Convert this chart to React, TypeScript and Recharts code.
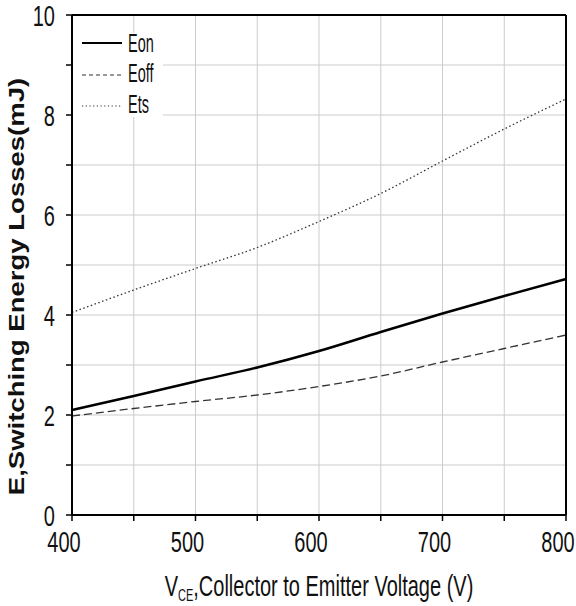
import React from "react";
import { LineChart, Line, XAxis, YAxis, CartesianGrid, ReferenceLine, Customized } from "recharts";

const voltages = [400, 450, 500, 550, 600, 650, 700, 750, 800];
const eOn = [2.1, 2.38, 2.67, 2.95, 3.28, 3.66, 4.03, 4.38, 4.72];
const eOff = [1.98, 2.13, 2.27, 2.4, 2.57, 2.78, 3.06, 3.33, 3.6];
const eTs = [4.05, 4.5, 4.93, 5.35, 5.87, 6.43, 7.08, 7.72, 8.32];
const xTicks = [400, 450, 500, 550, 600, 650, 700, 750, 800];
const yTicks = [0, 1, 2, 3, 4, 5, 6, 7, 8, 9, 10];

const data = voltages.map((v, i) => ({ v, eOn: eOn[i], eOff: eOff[i], eTs: eTs[i] }));

const FONT = "'Liberation Sans', Arial, sans-serif";

const XTick = (props: any) => {
  const { x, y, payload } = props;
  if (payload.value % 100 !== 0) return <g />;
  return (
    <text transform={`translate(${x - 8},${y + 29}) scale(1,1.5)`} textAnchor="middle" fontSize={20} fontFamily={FONT} fill="#111">
      {payload.value}
    </text>
  );
};

const YTick = (props: any) => {
  const { x, y, payload } = props;
  if (payload.value % 2 !== 0) return <g />;
  return (
    <text transform={`translate(${x - 9},${y + 10.5}) scale(1,1.5)`} textAnchor="end" fontSize={20} fontFamily={FONT} fill="#111">
      {payload.value}
    </text>
  );
};

const Overlay = () => (
  <g fontFamily={FONT}>
    <rect x={73} y={33} width={90} height={84} fill="#fff" />
    <line x1={82} x2={122} y1={43} y2={43} stroke="#000" strokeWidth={2.2} />
    <line x1={82} x2={122} y1={75} y2={75} stroke="#333" strokeWidth={1.2} strokeDasharray="4 3" />
    <line x1={82} x2={122} y1={106} y2={106} stroke="#333" strokeWidth={1.2} strokeDasharray="1.2 2.5" />
    <text transform="translate(128,52) scale(1,1.75)" fontSize={14.5} fill="#111">Eon</text>
    <text transform="translate(128,82) scale(1,1.75)" fontSize={14.5} fill="#111">Eoff</text>
    <text transform="translate(128,113) scale(1,1.75)" fontSize={14.5} fill="#111">Ets</text>
    <text transform="translate(23.5,286.5) rotate(-90) scale(1.28,1)" textAnchor="middle" fontSize={21.5} fontWeight="bold" fill="#111">
      E,Switching Energy Losses(mJ)
    </text>
    <text transform="translate(319,596) scale(1,1.5)" textAnchor="middle" fontSize={20} fill="#111">
      V<tspan fontSize={11} dy={3}>CE</tspan><tspan dy={-3}>,Collector to Emitter Voltage (V)</tspan>
    </text>
  </g>
);

export default function App() {
  return (
    <div style={{ position: "absolute", left: 0, top: 0, width: 576, height: 606 }}>
      <LineChart width={576} height={606} data={data} margin={{ top: 15, right: 10, bottom: 0, left: 0 }}>
        <CartesianGrid stroke="#cccccc" strokeWidth={1} />
        <XAxis
          dataKey="v"
          type="number"
          domain={[400, 800]}
          ticks={xTicks}
          tick={<XTick />}
          tickSize={6}
          height={91}
          axisLine={{ stroke: "#000", strokeWidth: 2 }}
          tickLine={{ stroke: "#000", strokeWidth: 1.5 }}
          interval={0}
        />
        <YAxis
          type="number"
          domain={[0, 10]}
          ticks={yTicks}
          tick={<YTick />}
          tickSize={6}
          width={72}
          axisLine={{ stroke: "#000", strokeWidth: 2 }}
          tickLine={{ stroke: "#000", strokeWidth: 1.5 }}
          interval={0}
        />
        <ReferenceLine y={10} stroke="#000" strokeWidth={2} />
        <ReferenceLine x={800} stroke="#000" strokeWidth={2} />
        <Line type="monotone" dataKey="eOn" stroke="#000" strokeWidth={2.5} dot={false} isAnimationActive={false} />
        <Line type="monotone" dataKey="eOff" stroke="#333" strokeWidth={1.3} strokeDasharray="8 4" dot={false} isAnimationActive={false} />
        <Line type="monotone" dataKey="eTs" stroke="#333" strokeWidth={1.3} strokeDasharray="1.5 2.5" dot={false} isAnimationActive={false} />
        <Customized component={Overlay} />
      </LineChart>
    </div>
  );
}
